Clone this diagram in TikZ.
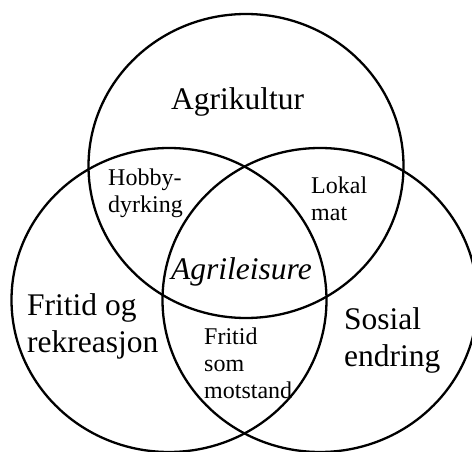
\documentclass[tikz,border=0pt]{standalone}
\usepackage{fontspec}
\setmainfont{Liberation Serif}
\begin{document}
\begin{tikzpicture}[x=1pt,y=-1pt,
  ring/.style={draw=black,line width=2.3pt},
  big/.style={inner sep=0pt,anchor=base west,align=left,font=\fontsize{31.5}{37}\selectfont},
  small/.style={inner sep=0pt,anchor=base west,align=left,font=\fontsize{24}{27}\selectfont}]
\useasboundingbox (0,0) rectangle (472,452);
\begin{scope}
\clip (0,0) rectangle (472,452);
\draw[ring] (246,166) ellipse [x radius=157.5, y radius=152];
\draw[ring] (169,300) ellipse [x radius=157.5, y radius=152];
\draw[ring] (320,300) ellipse [x radius=157.5, y radius=152];
\end{scope}
% multi-line nodes: base anchor is the last line's baseline
\node[big] (agri) at (171,110) {Agrikultur};
\node[small] (hobby) at (108,212) {Hobby-\\dyrking};
\node[small] (lokal) at (311,220) {Lokal\\mat};
\node[big] (agrileis) at (171,279) {\itshape Agrileisure};
\node[big] (fritid) at (27,352) {Fritid og\\rekreasjon};
\node[big] (sosial) at (344,366) {Sosial\\endring};
\node[small] (mot) at (204,398) {Fritid\\som\\motstand};
\end{tikzpicture}
\end{document}
